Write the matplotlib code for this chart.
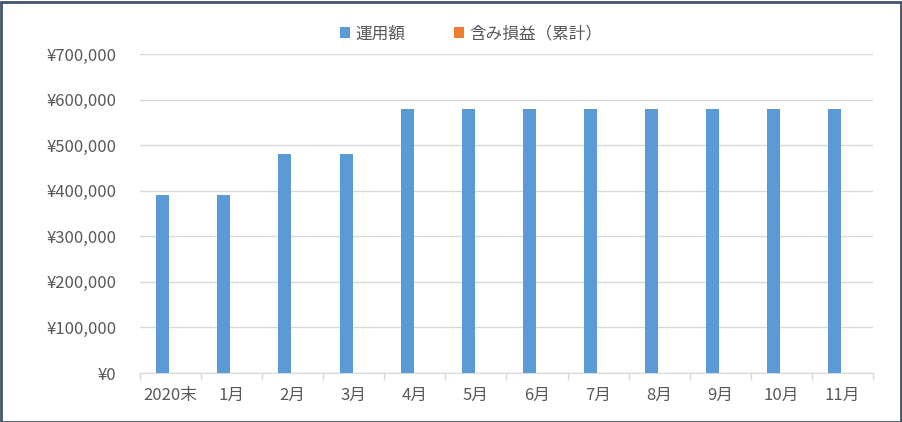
import matplotlib
matplotlib.use("Agg")
import matplotlib.pyplot as plt
import numpy as np
from matplotlib.patches import Rectangle
from matplotlib.ticker import FuncFormatter, FixedLocator

plt.rcParams['font.family'] = ['Noto Sans CJK JP', 'DejaVu Sans']

categories = ["2020末", "1月", "2月", "3月", "4月", "5月", "6月", "7月", "8月", "9月", "10月", "11月"]
invested = [390000, 390000, 480000, 480000, 580000, 580000, 580000, 580000, 580000, 580000, 580000, 580000]
unrealized = [0, 0, 0, 0, 0, 0, 0, 0, 0, 0, 0, 0]
series_names = ["運用額", "含み損益（累計）"]

fig = plt.figure(figsize=(9.02, 4.22), dpi=100)
ax = fig.add_axes([140/902, 49/422, 733/902, 319/422])

x = np.arange(len(categories))
w = 0.213
ax.bar(x - w/2 - 0.02, invested, width=w, color="#5B9BD5", label=series_names[0], zorder=3)
ax.bar(x + w/2 - 0.02, unrealized, width=w, color="#ED7D31", label=series_names[1], zorder=3)

ax.set_xlim(-0.5, len(categories) - 0.5)
ax.set_ylim(0, 700000)
ax.set_yticks(np.arange(0, 700001, 100000))
ax.yaxis.set_major_formatter(FuncFormatter(lambda v, p: f"¥{int(v):,}"))
ax.grid(axis="y", color="#D9D9D9", linewidth=1, zorder=0)
ax.set_xticks(x)
ax.set_xticklabels(categories)
ax.xaxis.set_minor_locator(FixedLocator(np.arange(-0.5, len(categories), 1)))
ax.tick_params(axis="x", which="major", length=0, pad=10, labelsize=12, labelcolor="#595959")
ax.tick_params(axis="x", which="minor", length=5, color="#D9D9D9", width=1)
ax.tick_params(axis="y", length=0, pad=17, labelsize=12, labelcolor="#595959")
for s in ["top", "right", "left"]:
    ax.spines[s].set_visible(False)
ax.spines["bottom"].set_color("#D9D9D9")

leg = fig.legend(loc="center", bbox_to_anchor=(471/902, 388/422), ncol=2, frameon=False,
                 fontsize=12, handlelength=0.65, handleheight=0.65, columnspacing=2.9,
                 handletextpad=0.3)
for t in leg.get_texts():
    t.set_color("#595959")

fig.patches.append(Rectangle((0.5/902, 0.5/422), 1 - 2/902, 1 - 2/422, transform=fig.transFigure,
                             fill=False, edgecolor="#44546A", linewidth=2))

fig.savefig("out.png", dpi=100)
